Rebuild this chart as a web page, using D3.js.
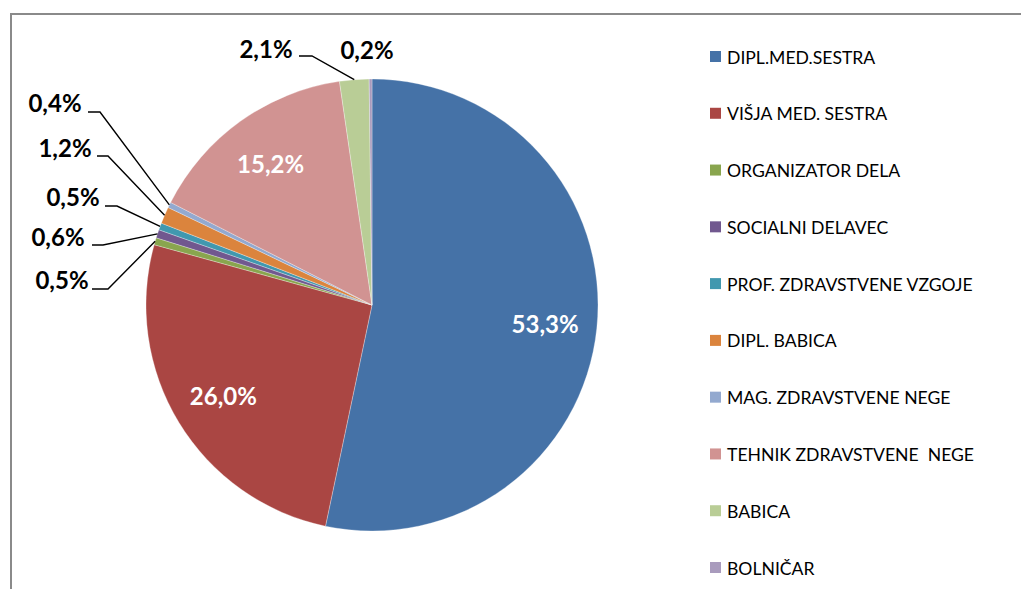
<!DOCTYPE html>
<html><head><meta charset="utf-8">
<script src="https://cdn.jsdelivr.net/npm/d3@7"></script>
<style>body{margin:0;background:#fff;} svg{display:block;}</style>
</head><body>
<svg id="chart" width="1021" height="589"></svg>
<script>
const categories = ["DIPL.MED.SESTRA","VIŠJA MED. SESTRA","ORGANIZATOR DELA","SOCIALNI DELAVEC","PROF. ZDRAVSTVENE VZGOJE","DIPL. BABICA","MAG. ZDRAVSTVENE NEGE","TEHNIK ZDRAVSTVENE  NEGE","BABICA","BOLNIČAR"];
const values = [53.3, 26.0, 0.5, 0.6, 0.5, 1.2, 0.4, 15.2, 2.1, 0.2];
const labels = ["53,3%","26,0%","0,5%","0,6%","0,5%","1,2%","0,4%","15,2%","2,1%","0,2%"];
const colors = ["#4572A7","#AA4643","#89A54E","#71588F","#4198AF","#DB843D","#93A9CF","#D19392","#B9CD96","#A99BBD"];

// layout: outside labels (text centre, leader elbow start) — null = inside label
const outside = [null, null,
  {t:[62,279], e:[[92,289],[108,289]]},
  {t:[58,236], e:[[92,245],[103,245]]},
  {t:[73,196], e:[[105,206],[117,206]]},
  {t:[65,147], e:[[97,156],[108,156]]},
  {t:[55,102], e:[[88,112],[100,112]]},
  null,
  {t:[266,48], e:[[299,56],[312,56]]},
  {t:[367,49], e:null}
];

const svg = d3.select("#chart");
const cx = 372, cy = 305, R = 226;

// frame
svg.append("path").attr("d","M11,589 L11,14 L1021,14").attr("fill","none").attr("stroke","#8a8a8a").attr("stroke-width",2);

const pie = d3.pie().value(d=>d).sort(null);
const arcs = pie(values);
const arc = d3.arc().innerRadius(0).outerRadius(R);
const g = svg.append("g").attr("transform",`translate(${cx},${cy})`);
g.selectAll("path.slice").data(arcs).enter().append("path")
  .attr("class","slice").attr("d",arc).attr("fill",(d,i)=>colors[i])
  .attr("stroke","#ffffff").attr("stroke-width",0.3);

const font = "Lato, 'Open Sans', sans-serif";
const inR = 0.77*R;
arcs.forEach((a,i)=>{
  const mid = (a.startAngle+a.endAngle)/2;
  if(!outside[i]){
    svg.append("text").attr("x",cx+Math.sin(mid)*inR).attr("y",cy-Math.cos(mid)*inR)
      .attr("text-anchor","middle").attr("dominant-baseline","central")
      .attr("font-family",font).attr("font-weight","bold").attr("font-size",24)
      .attr("fill","#ffffff").text(labels[i]);
  } else {
    const o = outside[i];
    if(o.e){
      const p = [cx+Math.sin(mid)*R, cy-Math.cos(mid)*R];
      svg.append("polyline").attr("points",[o.e[0],o.e[1],p].map(q=>q.join(",")).join(" "))
        .attr("fill","none").attr("stroke","#000").attr("stroke-width",1.4);
    }
    svg.append("text").attr("x",o.t[0]).attr("y",o.t[1])
      .attr("text-anchor","middle").attr("dominant-baseline","central")
      .attr("font-family",font).attr("font-weight","bold").attr("font-size",24)
      .attr("fill","#000").text(labels[i]);
  }
});

// legend
const ly = d3.scalePoint().domain(categories).range([57,568]);
const lg = svg.append("g");
categories.forEach((c,i)=>{
  lg.append("rect").attr("x",710).attr("y",ly(c)-6).attr("width",11).attr("height",11).attr("fill",colors[i]);
  lg.append("text").attr("x",727).attr("y",ly(c)).attr("dominant-baseline","central")
    .attr("font-family",font).attr("font-size",17.6).attr("fill","#000").style("white-space","pre").text(c);
});
</script>
</body></html>
